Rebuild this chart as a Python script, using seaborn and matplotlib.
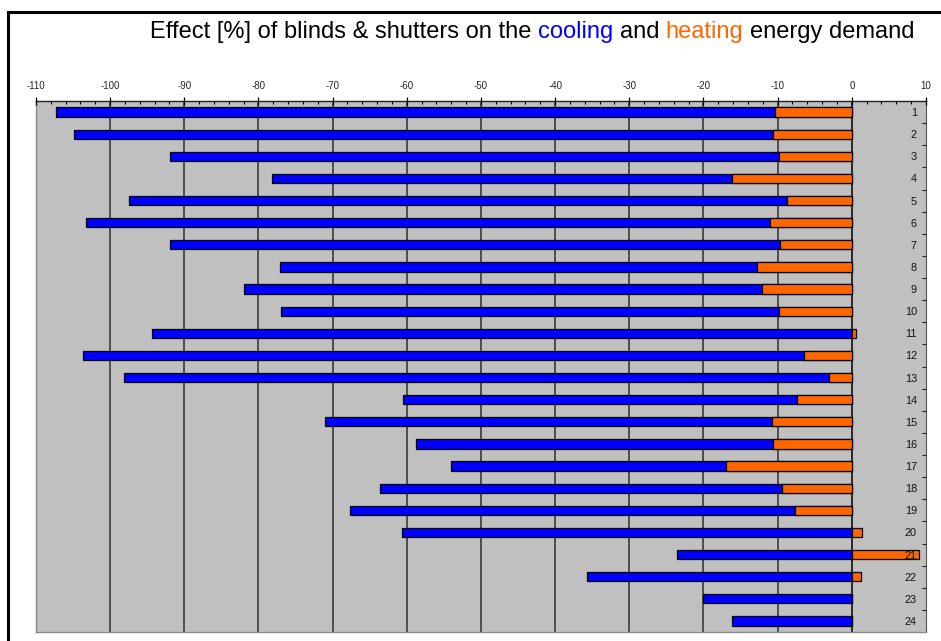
import matplotlib
matplotlib.use("Agg")
import matplotlib.pyplot as plt
from matplotlib.patches import Rectangle
from matplotlib.ticker import MultipleLocator, FixedLocator
import numpy as np
import pandas as pd
import seaborn as sns

# Case numbers (rows of the chart, top to bottom)
cases = [str(i) for i in range(1, 25)]

# Change of the cooling energy demand [%]
cooling = [-107.3, -104.9, -91.9, -78.2, -97.4, -103.3, -91.9, -77.1, -82.0, -76.9,
           -94.4, -103.7, -98.1, -60.5, -71.0, -58.7, -54.0, -63.6, -67.6, -60.6,
           -23.6, -35.7, -20.0, -16.2]

# Change of the heating energy demand [%]
heating = [-10.4, -10.6, -9.8, -16.1, -8.8, -11.0, -9.7, -12.8, -12.1, -9.8,
           0.5, -6.5, -3.1, -7.4, -10.8, -10.6, -17.0, -9.4, -7.7, 1.35,
           9.0, 1.2, 0.0, 0.0]

x_ticks = list(range(-110, 11, 10))

df = pd.DataFrame({"case": cases, "cooling": cooling, "heating": heating})

sns.set_style("white")
plt.rcParams["font.family"] = ["Liberation Sans", "DejaVu Sans"]

W, H = 941, 641
fig = plt.figure(figsize=(W / 100, H / 100), dpi=100)
fig.patch.set_facecolor("white")

left_px, right_px, top_px, bottom_px = 36, 926, 101, 632
ax = fig.add_axes([left_px / W, 1 - bottom_px / H,
                   (right_px - left_px) / W, (bottom_px - top_px) / H])
ax.set_facecolor("#C0C0C0")

BLUE = "#0000FF"
ORANGE = "#FF6600"

# cooling bars first, heating bars overlaid on top of them
sns.barplot(data=df, x="cooling", y="case", order=cases, orient="h",
            color=BLUE, saturation=1, width=0.42, edgecolor="black",
            linewidth=0.9, errorbar=None, ax=ax, zorder=1.5)
sns.barplot(data=df, x="heating", y="case", order=cases, orient="h",
            color=ORANGE, saturation=1, width=0.42, edgecolor="black",
            linewidth=0.9, errorbar=None, ax=ax, zorder=1.6)

ax.set_xlim(-110, 10)
ax.set_ylim(len(cases) - 0.5, -0.5)
ax.set_xlabel("")
ax.set_ylabel("")

# axis labels and ticks stay above the bars; gridlines are drawn separately below
ax.set_axisbelow(False)
for v in x_ticks[1:-1]:
    ax.axvline(v, color="#000000" if v == 0 else "#2e2e2e", lw=1.1, zorder=0.6)

# value axis on top
ax.xaxis.tick_top()
ax.set_xticks(x_ticks)
ax.set_xticklabels([str(v) for v in x_ticks])
ax.xaxis.set_minor_locator(MultipleLocator(2))
ax.tick_params(axis="x", which="major", direction="inout", length=6, width=0.9,
               color="black", pad=4.5, labelsize=7)
ax.tick_params(axis="x", which="minor", direction="in", length=2.5, width=0.8,
               color="black", top=True, bottom=False)

# case axis on the right, labels placed just inside the plot area
ax.yaxis.tick_right()
ax.set_yticks(range(len(cases)))
ax.set_yticklabels(cases)
ax.yaxis.set_minor_locator(FixedLocator(np.arange(0.5, len(cases) - 0.5, 1.0)))
ax.tick_params(axis="y", which="major", length=0, pad=-6.5, labelsize=7.8,
               left=False, right=False)
ax.tick_params(axis="y", which="minor", direction="in", length=3, width=0.8,
               color="#202020", right=True, left=False)
for lab in ax.get_yticklabels():
    lab.set_horizontalalignment("right")
    lab.set_color("#111111")

for side in ["left", "bottom"]:
    ax.spines[side].set_color("#8a8a8a")
    ax.spines[side].set_linewidth(1.0)
ax.spines["top"].set_color("#222222")
ax.spines["top"].set_linewidth(1.0)
ax.spines["right"].set_color("#555555")
ax.spines["right"].set_linewidth(0.8)

# outer frame around the chart
fig.patches.append(Rectangle((8 / W, -0.2), 1.5, (H - 12) / H + 0.2,
                             transform=fig.transFigure, fill=False,
                             edgecolor="black", linewidth=2.2))

# multi-coloured title, pieces laid out left to right
pieces = [("Effect [%] of blinds & shutters on the", "black"),
          ("cooling", BLUE),
          ("and", "black"),
          ("heating", ORANGE),
          ("energy demand", "black")]
fs = 17.0
space_px = 0.278 * fs * 100 / 72
base_y = 1 - 38 / H

fig.canvas.draw()
renderer = fig.canvas.get_renderer()
x_px = 150.0
for txt, col in pieces:
    t = fig.text(x_px / W, base_y, txt, color=col, fontsize=fs,
                 ha="left", va="baseline")
    x_px = t.get_window_extent(renderer).x1 + space_px

fig.savefig("out.png", dpi=100, facecolor="white")
